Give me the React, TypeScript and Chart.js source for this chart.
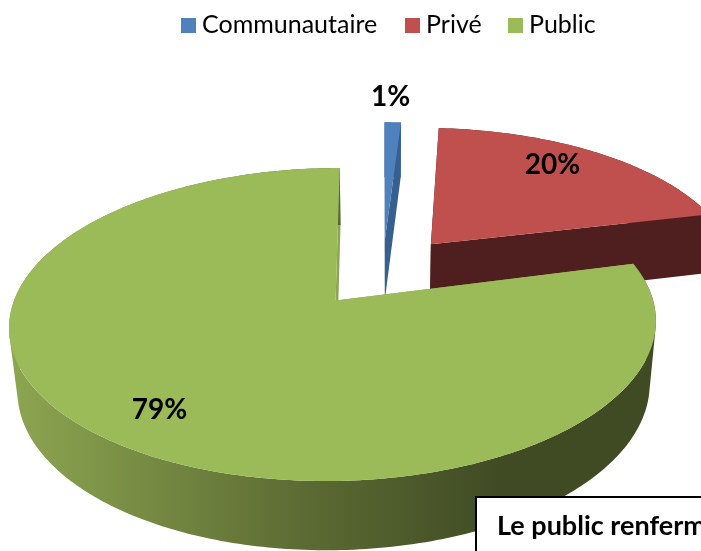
import React, { useEffect, useRef } from "react";
import { Chart, registerables } from "chart.js";

Chart.register(...registerables);

const categories = ["Communautaire", "Privé", "Public"];
const shares = [1, 20, 79];
const topColours = ["#4F81BD", "#C0504D", "#9BBB59"];
const cutColours = ["#375F8F", "#4E1F1E", "#8AA650"];
const noteText = "Le public renferme";

// Perspective view of the pie plane (style constants, not data)
const VIEW = { cx: 379.6, cy: 272.8, K: 310.6, A: 144.4, D: 63, p: 0.15, q: 0.022, explode: 0.235 };
const SLICE_DX = [3, 3, 0];
const APEX_DX = [0, 3, 2];
const APEX_DY = [0, -3, 0];
const LABEL_RADIUS = [1.26, 0.857, 0.818];
const LABEL_NUDGE_X = [-1, -19, 9];

type P = [number, number];
const project = (u: number, v: number, h: number): P => {
  const w = 1 + VIEW.p * v + VIEW.q * h;
  return [VIEW.cx + (VIEW.K * u) / w, VIEW.cy + (-VIEW.A * v + VIEW.D * h) / w];
};

const trace = (ctx: CanvasRenderingContext2D, pts: P[]) => {
  pts.forEach((p, i) => (i ? ctx.lineTo(p[0], p[1]) : ctx.moveTo(p[0], p[1])));
  ctx.closePath();
};

const poly = (ctx: CanvasRenderingContext2D, pts: P[], fill: string | CanvasGradient) => {
  ctx.beginPath();
  trace(ctx, pts);
  ctx.fillStyle = fill;
  ctx.fill();
};

const pie3d = {
  id: "pie3d",
  beforeDatasetDraw(chart: any) {
    const ctx: CanvasRenderingContext2D = chart.ctx;
    const arcs = chart.getDatasetMeta(0).data;
    arcs.forEach((arc: any, i: number) => {
      const { startAngle, endAngle } = arc.getProps(["startAngle", "endAngle"], true);
      const mid = (startAngle + endAngle) / 2;
      const ou = VIEW.explode * Math.cos(mid);
      const ov = -VIEW.explode * Math.sin(mid);
      const steps = Math.max(4, Math.ceil((endAngle - startAngle) * 60));
      const rim = (h: number) => {
        const out: P[] = [];
        for (let s = 0; s <= steps; s++) {
          const a = startAngle + ((endAngle - startAngle) * s) / steps;
          const q = project(ou + Math.cos(a), ov - Math.sin(a), h);
          out.push([q[0] + SLICE_DX[i], q[1]]);
        }
        return out;
      };
      const top = rim(0);
      const bottom = rim(1);
      const shift = (q: P): P => [q[0] + SLICE_DX[i] + APEX_DX[i], q[1] + APEX_DY[i]];
      const apex0 = shift(project(ou, ov, 0));
      const apex1 = shift(project(ou, ov, 1));
      // cut faces
      poly(ctx, [apex0, top[0], bottom[0], apex1], cutColours[i]);
      poly(ctx, [apex0, top[steps], bottom[steps], apex1], cutColours[i]);
      // outer wall: every strip in one path, so that no seams show
      let wall: string | CanvasGradient = cutColours[i];
      if (i === 2) {
        const g = ctx.createLinearGradient(10, 0, 500, 0);
        g.addColorStop(0, "#8DA651");
        g.addColorStop(0.6, "#5C6B33");
        g.addColorStop(1, "#404B24");
        wall = g;
      }
      ctx.beginPath();
      for (let s = 0; s < steps; s++) {
        const quad: P[] = [top[s], top[s + 1], bottom[s + 1], bottom[s]];
        // keep one winding for all strips
        const area = quad.reduce((acc, p, k) => {
          const n = quad[(k + 1) % 4];
          return acc + p[0] * n[1] - n[0] * p[1];
        }, 0);
        trace(ctx, area < 0 ? quad.slice().reverse() : quad);
      }
      ctx.fillStyle = wall;
      ctx.fill();
      // top face
      poly(ctx, [apex0, ...top], topColours[i]);
    });
    return false;
  },
  afterDraw(chart: any) {
    const ctx: CanvasRenderingContext2D = chart.ctx;
    const arcs = chart.getDatasetMeta(0).data;
    ctx.save();
    // value labels
    ctx.font = "bold 28px Lato";
    ctx.fillStyle = "#000";
    ctx.textAlign = "center";
    ctx.textBaseline = "middle";
    const total = shares.reduce((a, b) => a + b, 0);
    arcs.forEach((arc: any, i: number) => {
      const { startAngle, endAngle } = arc.getProps(["startAngle", "endAngle"], true);
      const mid = (startAngle + endAngle) / 2;
      const r = LABEL_RADIUS[i];
      const p = project((VIEW.explode + r) * Math.cos(mid), -(VIEW.explode + r) * Math.sin(mid), 0);
      ctx.fillText(`${Math.round((shares[i] / total) * 100)}%`, p[0] + LABEL_NUDGE_X[i], p[1]);
    });
    // legend
    ctx.textBaseline = "alphabetic";
    ctx.textAlign = "left";
    ctx.font = "25px Lato";
    const boxX = [181, 405, 508];
    categories.forEach((c, i) => {
      ctx.fillStyle = topColours[i];
      ctx.fillRect(boxX[i], 18, 15, 15);
      ctx.fillStyle = "#000";
      ctx.fillText(c, boxX[i] + 21, 33);
    });
    // note box running off the page
    ctx.fillStyle = "#fff";
    ctx.fillRect(476, 497, 240, 70);
    ctx.strokeStyle = "#000";
    ctx.lineWidth = 2;
    ctx.strokeRect(476, 497, 240, 70);
    ctx.fillStyle = "#000";
    ctx.font = "bold 27px Lato";
    ctx.fillText(noteText, 497, 535);
    ctx.restore();
  },
};

export default function App() {
  const ref = useRef<HTMLCanvasElement>(null);
  useEffect(() => {
    const chart = new Chart(ref.current!, {
      type: "pie",
      data: {
        labels: categories,
        datasets: [{ data: shares, backgroundColor: topColours, borderWidth: 0 }],
      },
      options: {
        responsive: false,
        animation: false,
        plugins: { legend: { display: false }, tooltip: { enabled: false } },
      },
      plugins: [pie3d],
    } as any);
    return () => chart.destroy();
  }, []);
  return (
    <div style={{ position: "fixed", left: 0, top: 0, width: 701, height: 551, background: "#fff", overflow: "hidden" }}>
      <canvas ref={ref} width={701} height={551} style={{ display: "block" }} />
    </div>
  );
}
